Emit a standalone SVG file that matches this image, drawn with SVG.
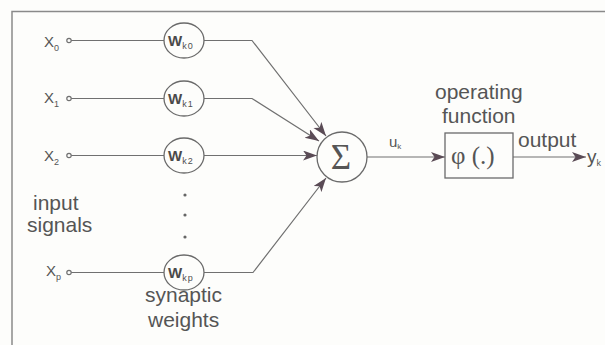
<svg xmlns="http://www.w3.org/2000/svg" width="605" height="345" viewBox="0 0 605 345">
<defs>
<style>
.frame{stroke:#8a8a8a;stroke-width:1.5;fill:none}
.ln{stroke:#707070;stroke-width:1.2;fill:none}
.wc{stroke:#6a6a6a;stroke-width:1.3;fill:#fdfdfb}
.t{font-family:"Liberation Sans",Arial,sans-serif;fill:#555;}
.lbl{font-size:21px}
.x{font-size:15px}
.sub{font-size:9px}
.w{font-size:15px;fill:#4a4a4a;font-weight:bold}
.wsub{font-size:9px;fill:#4e4e4e;font-weight:normal}
</style>
<marker id="ah" markerUnits="userSpaceOnUse" markerWidth="16" markerHeight="11" refX="14" refY="5" orient="auto">
<path d="M0,0 L14,5 L0,10 L3.5,5 Z" fill="#5a4b55"/>
</marker>
</defs>
<rect width="605" height="345" fill="#fdfdfb"/>
<path class="frame" d="M605,11.5 H12 V345"/>

<g id="connectors">
<circle class="ln" cx="69" cy="40.5" r="2.2"/>
<circle class="ln" cx="69" cy="98.5" r="2.2"/>
<circle class="ln" cx="69" cy="155.5" r="2.2"/>
<circle class="ln" cx="69" cy="272.5" r="2.2"/>
<path class="ln" d="M71.2,40.5 H164"/>
<path class="ln" d="M71.2,98.5 H164"/>
<path class="ln" d="M71.2,155.5 H164"/>
<path class="ln" d="M71.2,272.5 H164"/>
<path class="ln" d="M204,40.5 H252 L326,136" marker-end="url(#ah)"/>
<path class="ln" d="M204,98.5 H252 L319,141" marker-end="url(#ah)"/>
<path class="ln" d="M204,155.5 H317" marker-end="url(#ah)"/>
<path class="ln" d="M204,272.5 H253 L326,178" marker-end="url(#ah)"/>
<path class="ln" d="M367,157 H445" marker-end="url(#ah)"/>
<path class="ln" d="M513,157 H586" marker-end="url(#ah)"/>
<circle cx="185" cy="195" r="1.6" fill="#666"/>
<circle cx="185" cy="215" r="1.6" fill="#666"/>
<circle cx="185" cy="237" r="1.6" fill="#666"/>
</g>

<g id="x0"><text class="t x" x="44" y="47">X<tspan class="sub" dy="4">0</tspan></text></g>
<g id="x1"><text class="t x" x="44" y="103">X<tspan class="sub" dy="4">1</tspan></text></g>
<g id="x2"><text class="t x" x="44" y="161">X<tspan class="sub" dy="4">2</tspan></text></g>
<g id="xp"><text class="t x" x="46" y="276">X<tspan class="sub" dy="4">p</tspan></text></g>

<g id="w0"><ellipse class="wc" cx="184" cy="40.5" rx="20" ry="17.5"/><text class="t w" x="168" y="46">W<tspan class="wsub" dy="3" letter-spacing="1">k0</tspan></text></g>
<g id="w1"><ellipse class="wc" cx="184" cy="98.5" rx="20" ry="17.5"/><text class="t w" x="168" y="104">W<tspan class="wsub" dy="3" letter-spacing="1">k1</tspan></text></g>
<g id="w2"><ellipse class="wc" cx="184" cy="155.5" rx="20" ry="17.5"/><text class="t w" x="168" y="161">W<tspan class="wsub" dy="3" letter-spacing="1">k2</tspan></text></g>
<g id="wp"><ellipse class="wc" cx="184" cy="272.5" rx="20" ry="17.5"/><text class="t w" x="168" y="278">W<tspan class="wsub" dy="3" letter-spacing="1">kp</tspan></text></g>

<g id="inputs-label"><text class="t lbl" x="33" y="210">input</text><text class="t lbl" x="27" y="232">signals</text></g>
<g id="weights-label"><text class="t lbl" x="145" y="302">synaptic</text><text class="t lbl" x="148" y="327">weights</text></g>

<g id="sum"><circle class="wc" cx="342" cy="157" r="25"/><text x="341" y="169" text-anchor="middle" style="font-family:'Liberation Serif',serif;font-size:35px;fill:#555">Σ</text></g>
<g id="uk-label"><text class="t" x="389" y="147" style="font-size:15px">u<tspan class="sub" dy="2" style="font-size:8px">k</tspan></text></g>

<g id="activation"><rect class="ln" x="445" y="133" width="68" height="45" style="stroke:#6a6a6a;stroke-width:1.3"/><text x="451" y="164" style="font-family:'Liberation Serif',serif;font-size:25px;fill:#555" xml:space="preserve">φ (.)</text></g>
<g id="activation-label"><text class="t lbl" x="435" y="99">operating</text><text class="t lbl" x="442" y="123">function</text></g>
<g id="output-label"><text class="t lbl" x="518" y="147">output</text></g>
<g id="yk"><text class="t" x="587" y="163" style="font-size:19px">y<tspan class="sub" dy="3" style="font-size:9px">k</tspan></text></g>
</svg>
